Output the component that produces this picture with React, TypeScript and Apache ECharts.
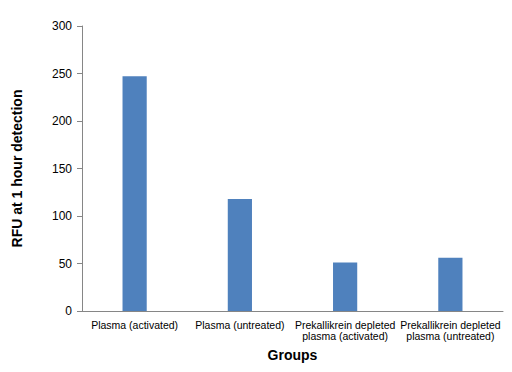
import React, { useEffect, useRef } from "react";
import * as echarts from "echarts";

const categories = [
  "Plasma (activated)",
  "Plasma (untreated)",
  "Prekallikrein depleted\nplasma (activated)",
  "Prekallikrein depleted\nplasma (untreated)",
];
const values = [247, 118, 51, 56];

export default function App() {
  const ref = useRef<HTMLDivElement>(null);
  useEffect(() => {
    if (!ref.current) return;
    const chart = echarts.init(ref.current, null, { renderer: "svg" });
    chart.setOption({
      animation: false,
      backgroundColor: "#ffffff",
      textStyle: { fontFamily: "Liberation Sans, Arial, sans-serif" },
      grid: { left: 82, right: 9, top: 26, bottom: 61 },
      xAxis: {
        type: "category",
        data: categories,
        name: "Groups",
        nameLocation: "middle",
        nameGap: 37,
        nameTextStyle: { fontSize: 14, fontWeight: "bold", color: "#000" },
        axisLine: { lineStyle: { color: "#868686" } },
        axisTick: { show: false },
        axisLabel: { interval: 0, fontSize: 10.5, color: "#000", lineHeight: 11, margin: 8 },
      },
      yAxis: {
        type: "value",
        min: 0,
        max: 300,
        interval: 50,
        name: "RFU at 1 hour detection",
        nameLocation: "middle",
        nameGap: 58,
        nameTextStyle: { fontSize: 14, fontWeight: "bold", color: "#000" },
        axisLine: { show: true, lineStyle: { color: "#868686" } },
        axisTick: { show: true, inside: false, length: 5, lineStyle: { color: "#868686" } },
        axisLabel: { fontSize: 12, color: "#000", margin: 10 },
        splitLine: { show: false },
      },
      series: [
        {
          type: "bar",
          data: values,
          barWidth: "23%",
          itemStyle: { color: "#4F81BD" },
        },
      ],
    });
    return () => chart.dispose();
  }, []);
  return (
    <div
      ref={ref}
      style={{ position: "fixed", left: 0, top: 0, width: 512, height: 372 }}
    />
  );
}
